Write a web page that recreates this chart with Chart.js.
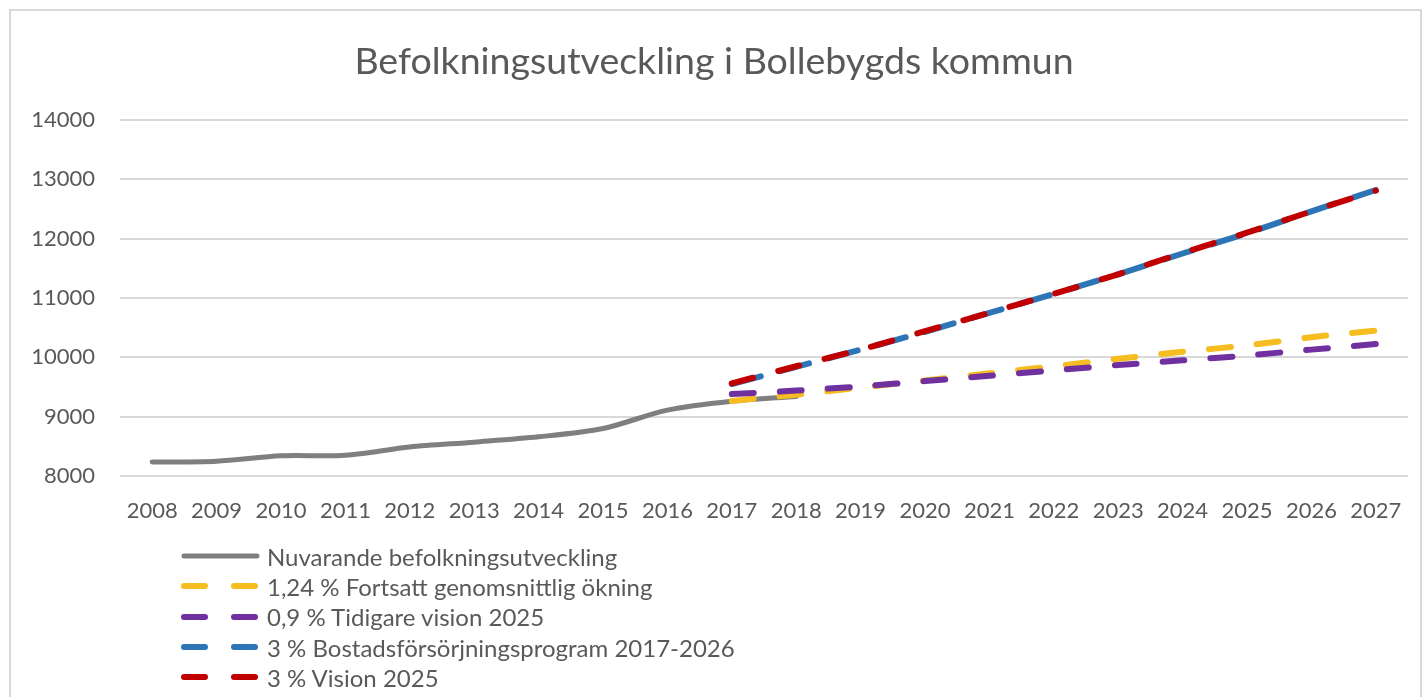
<!DOCTYPE html>
<html>
<head>
<meta charset="utf-8">
<script src="https://cdn.jsdelivr.net/npm/chart.js@4.4.1/dist/chart.umd.min.js"></script>
<style>
  html, body { margin: 0; padding: 0; background: #fff; overflow: hidden; }
  #wrap { position: relative; width: 1426px; height: 697px; }
  #frame { position: absolute; left: 9px; top: 9px; width: 1413px; height: 720px; border: 2px solid #d9d9d9; box-sizing: border-box; }
  #chart { position: absolute; left: 0; top: 0; }
  #legend { position: absolute; left: 181px; top: 541px; font-family: Lato, sans-serif; font-size: 24px; color: #595959; }
  #legend .item { display: flex; align-items: center; height: 30.3px; white-space: nowrap; }
  #legend svg { margin-right: 6px; }
</style>
</head>
<body>
<div id="wrap">
  <div id="frame"></div>
  <canvas id="chart" width="1426" height="697"></canvas>
  <div id="legend"></div>
</div>
<script>
const years = ['2008', '2009', '2010', '2011', '2012', '2013', '2014', '2015', '2016', '2017',
  '2018', '2019', '2020', '2021', '2022', '2023', '2024', '2025', '2026', '2027'];

// befolkning
const nuvarande = [8236, 8250, 8340, 8350, 8490, 8570, 8660, 8800, 9110, 9260,
  9340, null, null, null, null, null, null, null, null, null];
const fortsatt124 = [null, null, null, null, null, null, null, null, null, 9265,
  9370, 9490, 9610, 9730, 9850, 9975, 10095, 10200, 10340, 10450];
const tidigare09 = [null, null, null, null, null, null, null, null, null, 9380,
  9440, 9510, 9600, 9690, 9780, 9870, 9950, 10030, 10130, 10225];
const bostad3 = [null, null, null, null, null, null, null, null, null, 9550,
  9840, 10130, 10430, 10750, 11070, 11400, 11750, 12090, 12460, 12820];
const vision3 = [null, null, null, null, null, null, null, null, null, 9560,
  9850, 10130, 10440, 10750, 11070, 11400, 11760, 12100, 12460, 12810];

const yTicks = [8000, 9000, 10000, 11000, 12000, 13000, 14000];

const textColor = '#595959';
const font = 'Lato';

const datasets = [
  { label: 'Nuvarande befolkningsutveckling', data: nuvarande, borderColor: '#7f7f7f', borderWidth: 5, tension: 0.3, order: 5 },
  { label: '1,24 % Fortsatt genomsnittlig ökning', data: fortsatt124, borderColor: '#f5bd1f', borderWidth: 6, borderDash: [22, 26], order: 4 },
  { label: '0,9 % Tidigare vision 2025', data: tidigare09, borderColor: '#7030a0', borderWidth: 6, borderDash: [22, 26], order: 3 },
  { label: '3 % Bostadsförsörjningsprogram 2017-2026', data: bostad3, borderColor: '#2e75b6', borderWidth: 6, borderDash: [30, 20], order: 2 },
  { label: '3 % Vision 2025', data: vision3, borderColor: '#c00000', borderWidth: 6, borderDash: [22, 26], order: 1 }
];
datasets.forEach(d => {
  d.pointRadius = 0;
  d.borderCapStyle = 'round';
  d.borderJoinStyle = 'round';
  d.fill = false;
  d.spanGaps = false;
  if (d.tension === undefined) d.tension = 0.2;
});

const chart = new Chart(document.getElementById('chart'), {
  type: 'line',
  data: { labels: years, datasets },
  options: {
    responsive: false,
    animation: false,
    layout: { padding: { left: 20, right: 18, top: 10, bottom: 0 } },
    plugins: {
      legend: { display: false },
      tooltip: { enabled: false },
      title: {
        display: true,
        text: 'Befolkningsutveckling i Bollebygds kommun',
        color: textColor,
        font: { family: font, size: 37.5, weight: 'normal', lineHeight: 1.2 },
        padding: { top: 29.5, bottom: 35.5 }
      }
    },
    scales: {
      x: {
        offset: true,
        grid: { display: false },
        border: { display: false },
        ticks: { color: textColor, font: { family: font, size: 22 }, padding: 14, maxRotation: 0, autoSkip: false },
        afterFit: (scale) => { scale.height = 221; }
      },
      y: {
        min: 8000,
        max: 14000,
        afterBuildTicks: (scale) => { scale.ticks = yTicks.map(v => ({ value: v })); },
        grid: { color: '#d9d9d9', lineWidth: 2, drawTicks: false },
        border: { display: false },
        ticks: { color: textColor, font: { family: font, size: 22 }, padding: 25, callback: (v) => String(v) },
        afterFit: (scale) => { scale.width = 100; }
      }
    }
  }
});

// legend i HTML, en rad per serie
const legendEl = document.getElementById('legend');
chart.data.datasets.forEach(ds => {
  const item = document.createElement('div');
  item.className = 'item';
  const dash = ds.borderDash ? 'stroke-dasharray="21 29"' : '';
  item.innerHTML =
    '<svg width="80" height="10"><line x1="3" y1="5" x2="76" y2="5" stroke="' + ds.borderColor +
    '" stroke-width="' + ds.borderWidth + '" stroke-linecap="round" ' + dash + '/></svg>';
  const span = document.createElement('span');
  span.textContent = ds.label;
  item.appendChild(span);
  legendEl.appendChild(item);
});
</script>
</body>
</html>
